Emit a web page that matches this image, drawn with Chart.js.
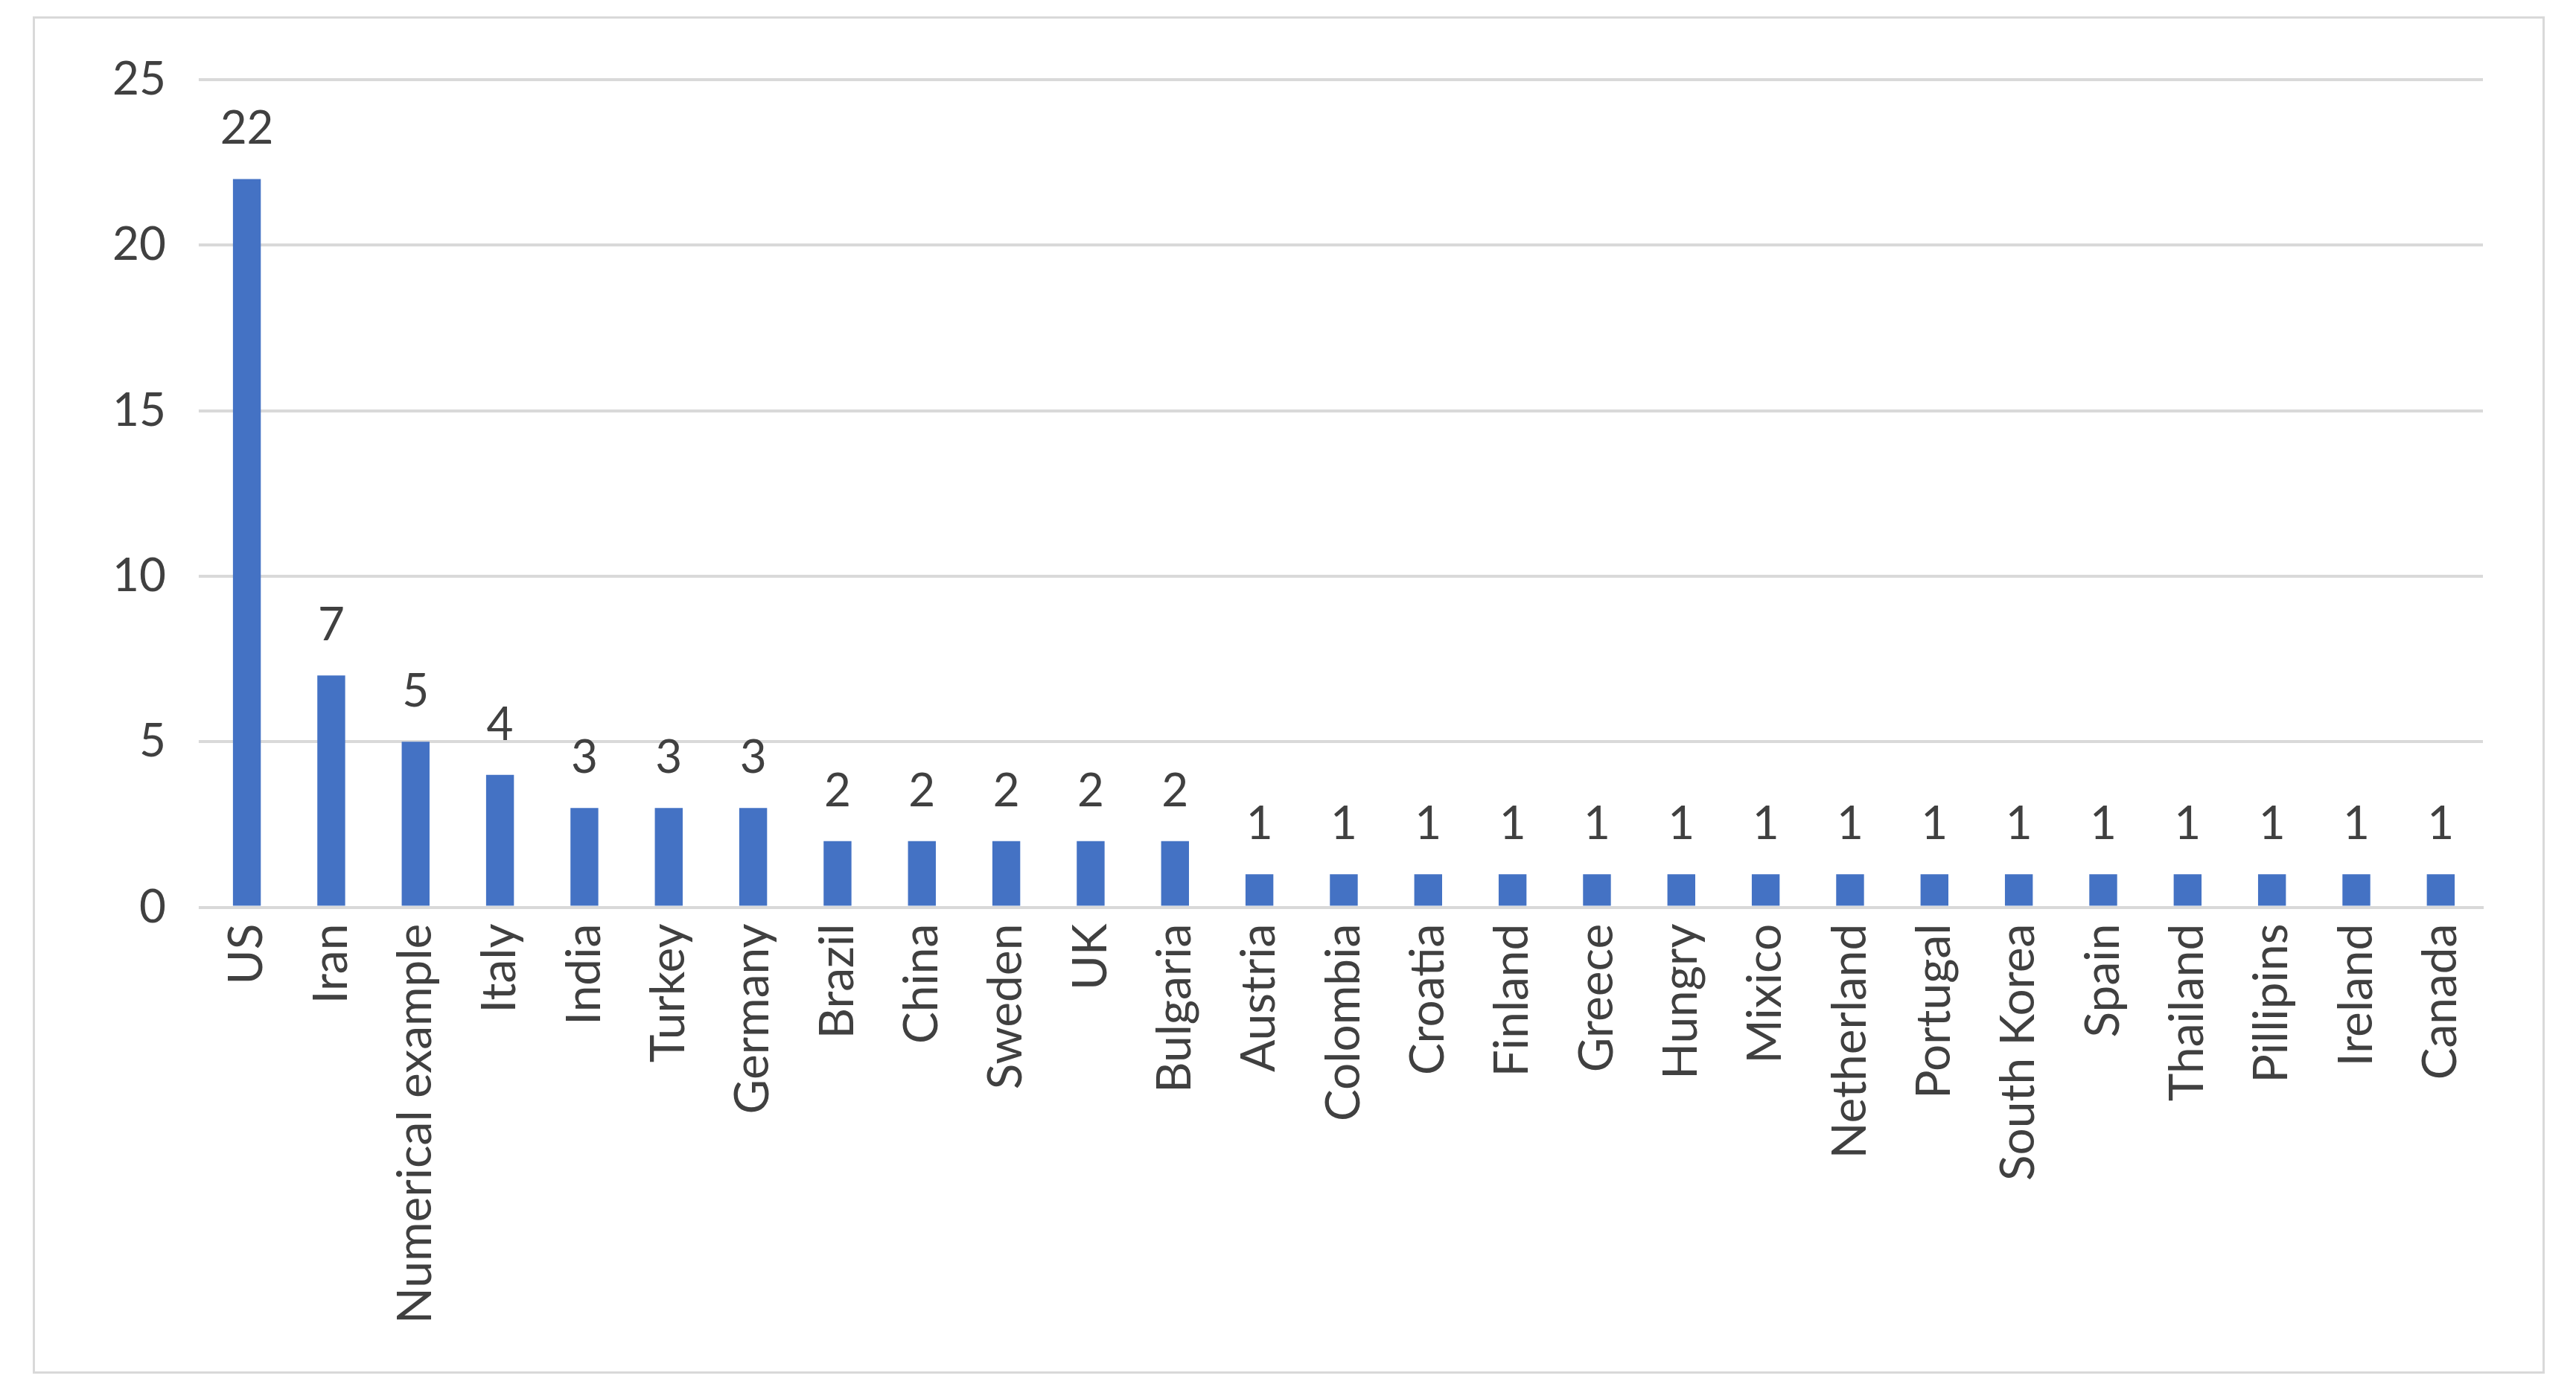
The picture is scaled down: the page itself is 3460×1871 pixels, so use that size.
<!DOCTYPE html>
<html lang="en">
<head>
<meta charset="UTF-8">
<title>Countries</title>
<script src="https://cdn.jsdelivr.net/npm/chart.js"></script>
<style>
  body { margin: 0; background: #fff; }
  .frame {
    position: absolute; left: 44px; top: 22px;
    width: 3368px; height: 1817px;
    border: 3px solid #d9d9d9; background: #fff;
  }
</style>
</head>
<body>
<div class="frame"><canvas id="chart"></canvas></div>
<script>
const countries = ['US','Iran','Numerical example','Italy','India','Turkey','Germany','Brazil','China','Sweden','UK','Bulgaria','Austria','Colombia','Croatia','Finland','Greece','Hungry','Mixico','Netherland','Portugal','South Korea','Spain','Thailand','Pillipins','Ireland','Canada'];
const counts = [22,7,5,4,3,3,3,2,2,2,2,2,1,1,1,1,1,1,1,1,1,1,1,1,1,1,1];
const yTicks = [0,5,10,15,20,25];

// draws the value above each bar
const barLabels = {
  id: 'barLabels',
  afterDatasetsDraw(chart) {
    const ctx = chart.ctx;
    ctx.save();
    ctx.fillStyle = '#404040';
    ctx.font = '62px Lato';
    ctx.textAlign = 'center';
    ctx.textBaseline = 'bottom';
    chart.getDatasetMeta(0).data.forEach((bar, i) => {
      ctx.fillText(counts[i], bar.x, bar.y - 36);
    });
    ctx.restore();
  }
};

new Chart(document.getElementById('chart'), {
  type: 'bar',
  data: {
    labels: countries,
    datasets: [{ data: counts, backgroundColor: '#4472c4', barPercentage: 0.33, categoryPercentage: 1 }]
  },
  options: {
    responsive: true,
    maintainAspectRatio: false,
    animation: false,
    layout: { padding: { left: 60, right: 80, top: 82, bottom: 50 } },
    plugins: { legend: { display: false }, tooltip: { enabled: false } },
    scales: {
      x: {
        grid: { display: false },
        border: { color: '#d9d9d9', width: 4 },
        ticks: { color: '#404040', font: { family: 'Lato', size: 64 }, maxRotation: 90, minRotation: 90, autoSkip: false, padding: 14 }
      },
      y: {
        min: 0, max: 25,
        afterBuildTicks: axis => { axis.ticks = yTicks.map(v => ({ value: v })); },
        grid: { color: '#d9d9d9', lineWidth: 4 },
        border: { display: false },
        ticks: { color: '#404040', font: { family: 'Lato', size: 62 }, padding: 44 }
      }
    }
  },
  plugins: [barLabels]
});
</script>
</body>
</html>
